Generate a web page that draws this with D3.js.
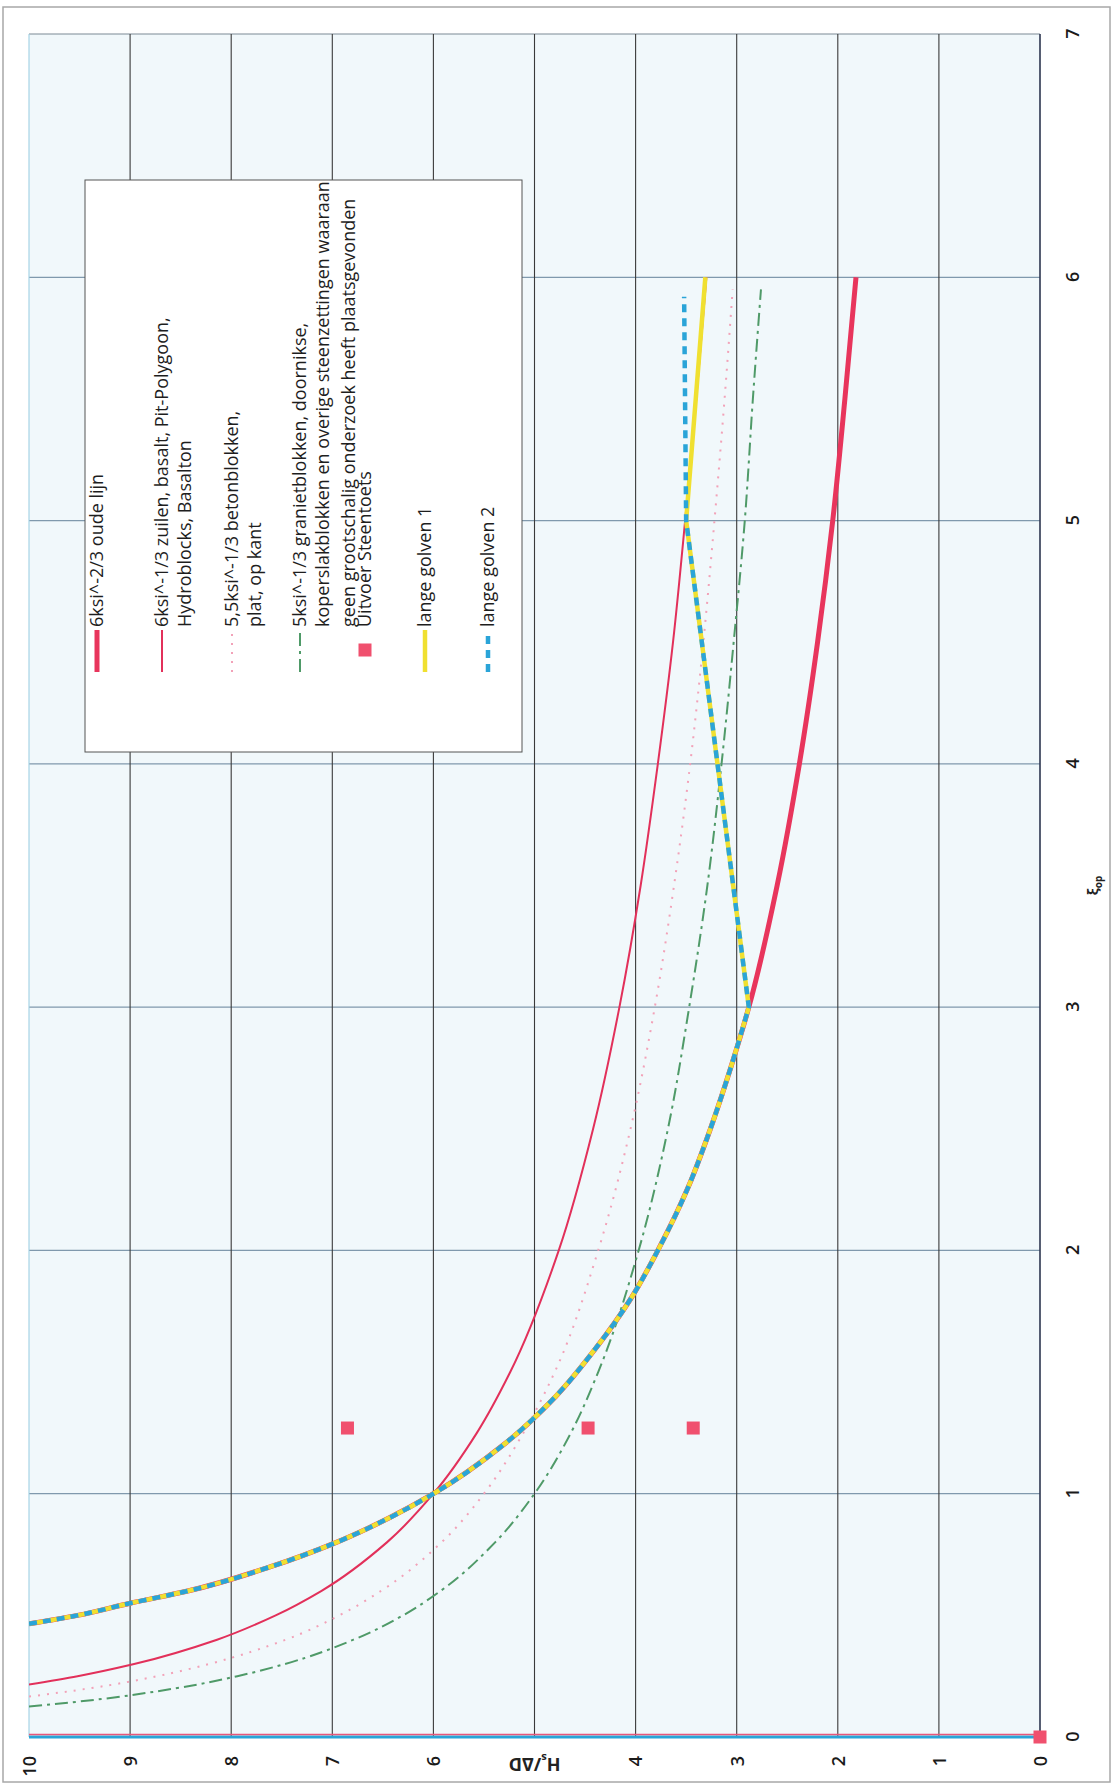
<!DOCTYPE html>
<html><head><meta charset="utf-8">
<script src="https://cdn.jsdelivr.net/npm/d3@7"></script>
<style>body{margin:0;background:#fff}svg{display:block}</style>
</head><body>
<svg id="c" width="1115" height="1790"></svg>
<script>
// ---------- data ----------
const xiTicks = [0,1,2,3,4,5,6,7];
const hTicks = [0,1,2,3,4,5,6,7,8,9,10];
const hTickLabels = ["0","1","2","3","4","","6","7","8","9","10"];
const xiTickLabels = ["0","1","2","3","4","5","6","7"];

// 6ksi^-2/3 oude lijn
const oudeLijn = [[0.465,10.0],[0.5,9.52],[0.55,9.0],[0.6,8.43],[0.7,7.61],[0.8,6.96],[0.9,6.44],[1.0,6.0],[1.2,5.31],[1.4,4.79],[1.6,4.39],[1.8,4.05],[2.0,3.78],[2.25,3.49],[2.5,3.26],[2.75,3.06],[3.0,2.88],[3.5,2.60],[4.0,2.38],[4.5,2.20],[5.0,2.05],[5.5,1.93],[6.0,1.82]];
// 6ksi^-1/3 zuilen
const zuilen = [[0.216,10.0],[0.25,9.52],[0.3,8.96],[0.4,8.14],[0.5,7.56],[0.6,7.11],[0.8,6.46],[1.0,6.0],[1.25,5.57],[1.5,5.24],[2.0,4.76],[2.5,4.42],[3.0,4.16],[3.5,3.95],[4.0,3.78],[4.5,3.63],[5.0,3.51],[5.5,3.40],[6.0,3.30]];
// 5,5ksi^-1/3 betonblokken
const betonblokken = [[0.166,10.0],[0.2,9.40],[0.25,8.73],[0.3,8.22],[0.4,7.46],[0.5,6.93],[0.6,6.52],[0.8,5.92],[1.0,5.5],[1.25,5.11],[1.5,4.80],[2.0,4.37],[2.5,4.05],[3.0,3.81],[3.5,3.62],[4.0,3.46],[4.5,3.33],[5.0,3.22],[5.5,3.12],[5.95,3.04]];
// 5ksi^-1/3 granietblokken
const granietblokken = [[0.125,10.0],[0.15,9.41],[0.2,8.55],[0.25,7.94],[0.3,7.47],[0.4,6.79],[0.5,6.30],[0.6,5.93],[0.8,5.39],[1.0,5.0],[1.25,4.64],[1.5,4.37],[2.0,3.97],[2.5,3.68],[3.0,3.47],[3.5,3.29],[4.0,3.15],[4.5,3.03],[5.0,2.92],[5.5,2.84],[5.95,2.76]];
// Uitvoer Steentoets
const steentoets = [[0,0],[1.27,6.85],[1.27,4.47],[1.27,3.43]];
// lange golven 1
const langeGolven1 = [[0.465,10.0],[0.5,9.52],[0.55,9.0],[0.6,8.43],[0.7,7.61],[0.8,6.96],[0.9,6.44],[1.0,6.0],[1.2,5.31],[1.4,4.79],[1.6,4.39],[1.8,4.05],[2.0,3.78],[2.25,3.49],[2.5,3.26],[2.75,3.06],[3.0,2.88],[4.0,3.19],[5.0,3.50],[6.0,3.31]];
// lange golven 2
const langeGolven2 = [[0.465,10.0],[0.5,9.52],[0.55,9.0],[0.6,8.43],[0.7,7.61],[0.8,6.96],[0.9,6.44],[1.0,6.0],[1.2,5.31],[1.4,4.79],[1.6,4.39],[1.8,4.05],[2.0,3.78],[2.25,3.49],[2.5,3.26],[2.75,3.06],[3.0,2.88],[4.0,3.19],[5.0,3.50],[5.92,3.52]];

const legendLabels = [
  ["6ksi^-2/3 oude lijn"],
  ["6ksi^-1/3 zuilen, basalt, Pit-Polygoon,","Hydroblocks, Basalton"],
  ["5,5ksi^-1/3 betonblokken,","plat, op kant"],
  ["5ksi^-1/3 granietblokken, doornikse,","koperslakblokken en overige steenzettingen waaraan","geen grootschalig onderzoek heeft plaatsgevonden"],
  ["Uitvoer Steentoets"],
  ["lange golven 1"],
  ["lange golven 2"]
];

// ---------- styles / layout ----------
const styles = {
  oude:   {color:"#e8355c", width:5,   dash:null},
  zuilen: {color:"#e2305a", width:2,   dash:null},
  beton:  {color:"#f2a2b8", width:2,   dash:"2,7"},
  graniet:{color:"#4f9a68", width:2,   dash:"13,5,3,5"},
  lg1:    {color:"#f0e030", width:4.5, dash:null},
  lg2:    {color:"#2aa4d8", width:4.5, dash:"8,6"}
};
const legendLineV = [[97],[162,185],[232,255],[300,323,349],[365],[425],[488]];
const legendKinds = ["oude","zuilen","beton","graniet","square","lg1","lg2"];

const svg = d3.select("#c");
// chart is drawn in an unrotated frame (1790 wide x 1115 high), then rotated 90° CCW
const g = svg.append("g").attr("transform","translate(0,1790) rotate(-90)");

const x = d3.scaleLinear().domain([0,7]).range([53,1756]);
const y = d3.scaleLinear().domain([0,10]).range([1040,29]);

// outer frame
g.append("rect").attr("x",8).attr("y",3).attr("width",1775).attr("height",1107)
  .attr("fill","#fff").attr("stroke","#a8a8a8").attr("stroke-width",1.5);

// plot background
g.append("rect").attr("x",x(0)).attr("y",y(10)).attr("width",x(7)-x(0)).attr("height",y(0)-y(10))
  .attr("fill","#f1f8fb");

g.append("clipPath").attr("id","clip").append("rect")
  .attr("x",x(0)).attr("y",y(10)).attr("width",x(7)-x(0)).attr("height",y(0)-y(10));

// grid
g.append("g").selectAll("line").data(xiTicks).join("line")
  .attr("x1",d=>x(d)).attr("x2",d=>x(d)).attr("y1",y(0)).attr("y2",y(10))
  .attr("stroke",d=>d===7?"#7d8a96":"#8099ad").attr("stroke-width",1.2);
g.append("g").selectAll("line").data(hTicks).join("line")
  .attr("x1",x(0)).attr("x2",x(7)).attr("y1",d=>y(d)).attr("y2",d=>y(d))
  .attr("stroke",d=>d===10?"#9fcfe4":(d===0?"#2d3550":"#3a3a3a"))
  .attr("stroke-width",d=>d===0?1.6:1.1);

// axis lines along xi = 0
g.append("line").attr("x1",x(0)).attr("x2",x(0)).attr("y1",y(0)).attr("y2",y(10))
  .attr("stroke","#2aa4d8").attr("stroke-width",3);
g.append("line").attr("x1",x(0)+2.5).attr("x2",x(0)+2.5).attr("y1",y(0)).attr("y2",y(10))
  .attr("stroke","#e8577a").attr("stroke-width",1.5);

// tick labels
const fontFam = "'Open Sans','DejaVu Sans',sans-serif";
const xAxis = g.append("g").attr("transform",`translate(0,${y(0)})`)
  .call(d3.axisBottom(x).tickValues(xiTicks).tickSize(0).tickFormat((d,i)=>xiTickLabels[i]));
xAxis.select(".domain").remove();
xAxis.selectAll("text").attr("y",33).attr("dy","0.35em")
  .attr("font-family",fontFam).attr("font-size",18).attr("font-weight",600).attr("fill","#1a1a1a");

const yAxis = g.append("g").attr("transform",`translate(${x(0)},0)`)
  .call(d3.axisLeft(y).tickValues(hTicks).tickSize(0).tickFormat((d,i)=>hTickLabels[i]));
yAxis.select(".domain").remove();
yAxis.selectAll("text").attr("x",-19).attr("dy","0.35em")
  .attr("font-family",fontFam).attr("font-size",18).attr("font-weight",600).attr("fill","#1a1a1a");

// axis titles
const xt = g.append("text").attr("x",x(3.5)).attr("y",y(0)+58).attr("text-anchor","middle")
  .attr("font-family",fontFam).attr("font-size",14).attr("font-weight","bold").attr("fill","#222");
xt.append("tspan").text("ξ");
xt.append("tspan").attr("font-size",10).attr("dy",4).text("op");

const yt = g.append("text").attr("transform",`translate(${x(0)-27},${y(5)}) rotate(-90)`)
  .attr("text-anchor","middle").attr("dy","0.35em")
  .attr("font-family",fontFam).attr("font-size",18).attr("font-weight","bold").attr("fill","#222");
yt.append("tspan").text("H");
yt.append("tspan").attr("font-size",11).attr("dy",4).text("s");
yt.append("tspan").attr("dy",-4).text("/ΔD");

// series
const plot = g.append("g").attr("clip-path","url(#clip)");
const lineMono = d3.line().x(d=>x(d[0])).y(d=>y(d[1])).curve(d3.curveMonotoneX);
const lineLin = d3.line().x(d=>x(d[0])).y(d=>y(d[1]));
function drawSeries(data, st){
  plot.append("path").attr("d",lineMono(data)).attr("fill","none")
    .attr("stroke",st.color).attr("stroke-width",st.width)
    .attr("stroke-dasharray",st.dash).attr("stroke-linejoin","round");
}
function drawKinked(data, st){
  const curvePart = data.filter(d=>d[0]<=3);
  const linPart = data.filter(d=>d[0]>=3);
  const p = lineMono(curvePart) + lineLin(linPart).replace(/^M/,"L");
  plot.append("path").attr("d",p).attr("fill","none")
    .attr("stroke",st.color).attr("stroke-width",st.width)
    .attr("stroke-dasharray",st.dash).attr("stroke-linejoin","round");
}
drawSeries(oudeLijn, styles.oude);
drawSeries(zuilen, styles.zuilen);
drawSeries(betonblokken, styles.beton);
drawSeries(granietblokken, styles.graniet);
drawKinked(langeGolven1, styles.lg1);
drawKinked(langeGolven2, styles.lg2);

g.append("g").selectAll("rect").data(steentoets).join("rect")
  .attr("x",d=>x(d[0])-6.5).attr("y",d=>y(d[1])-6.5).attr("width",13).attr("height",13)
  .attr("fill","#f0506e");

// legend
const lg = g.append("g");
lg.append("rect").attr("x",1038).attr("y",85).attr("width",572).attr("height",437)
  .attr("fill","#fff").attr("stroke","#555").attr("stroke-width",1);
legendLabels.forEach((lines,i)=>{
  const kind = legendKinds[i];
  const v0 = legendLineV[i][0];
  if(kind==="square"){
    lg.append("rect").attr("x",1140-6.5).attr("y",v0-6.5).attr("width",13).attr("height",13).attr("fill","#f0506e");
  } else {
    const st = styles[kind];
    lg.append("line").attr("x1",1118).attr("x2",1160).attr("y1",v0).attr("y2",v0)
      .attr("stroke",st.color).attr("stroke-width",st.width).attr("stroke-dasharray",st.dash);
  }
  lines.forEach((t,j)=>{
    lg.append("text").attr("x",1163).attr("y",legendLineV[i][j]).attr("dy","0.35em")
      .attr("font-family",fontFam).attr("font-size",18).attr("font-weight",500).attr("fill","#1e1e1e").text(t);
  });
});
</script>
</body></html>
